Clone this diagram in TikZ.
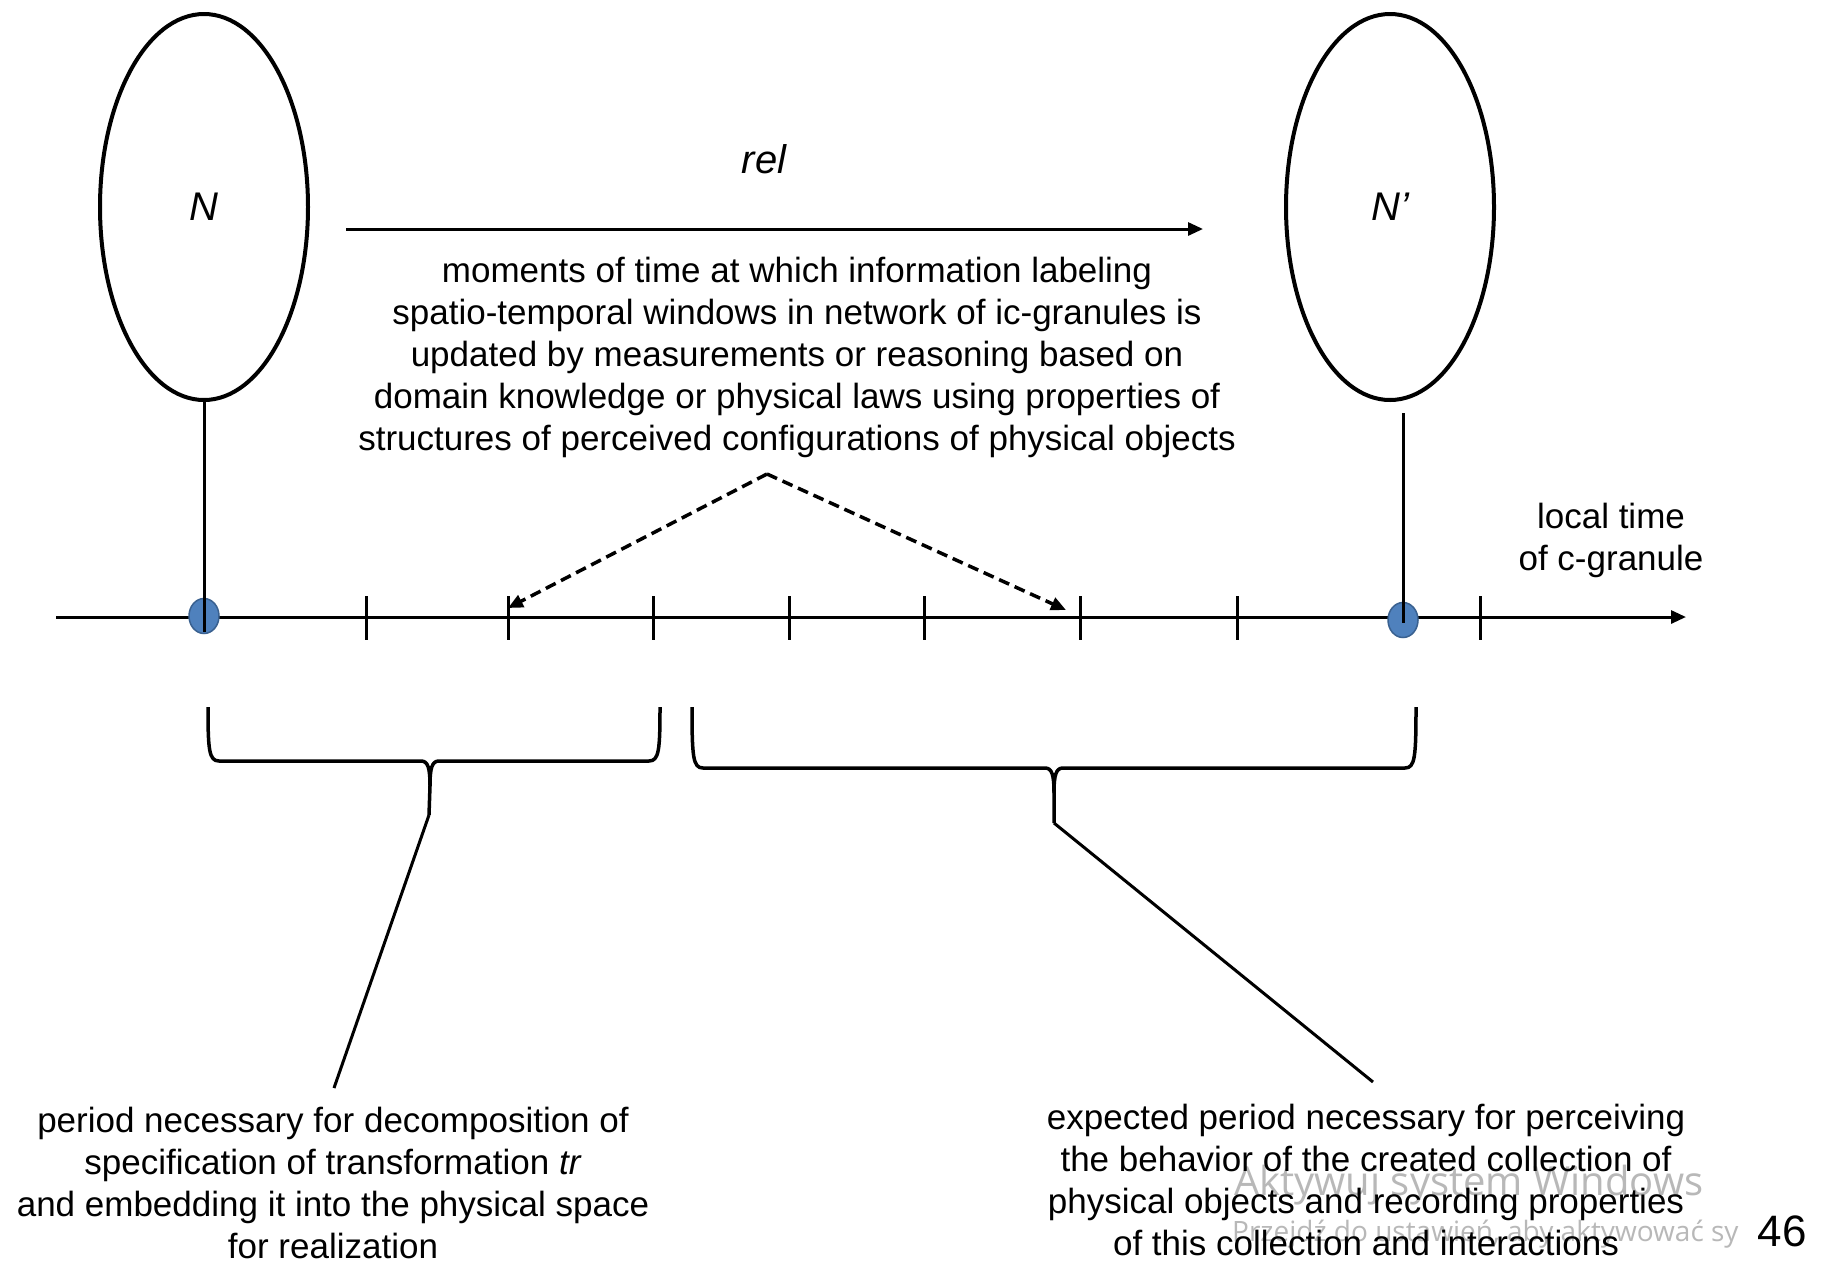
\documentclass[tikz,border=0pt]{standalone}
\usepackage{fontspec}
\setmainfont{Liberation Sans}
\newfontfamily\wmfont{Open Sans}
\usetikzlibrary{arrows.meta,shapes.geometric}
\definecolor{dotblue}{HTML}{4F81BD}
\definecolor{dotedge}{HTML}{3A6190}
\definecolor{wmgray}{HTML}{B8B8B8}

\begin{document}
\begin{tikzpicture}[x=1pt,y=-1pt,
  txt/.style={font=\fontsize{35}{42}\selectfont, align=center, inner sep=0pt},
  granule/.style={ellipse, draw, line width=4pt, minimum width=208pt,
    minimum height=386pt, inner sep=0pt, font=\fontsize{40}{48}\selectfont\itshape},
  stamp/.style={ellipse, draw=dotedge, fill=dotblue, line width=1.5pt,
    minimum width=30pt, minimum height=35pt, inner sep=0pt},
  stem/.style={line width=3pt},
  axisline/.style={line width=3pt, -{Triangle[length=15pt,width=13pt]}},
  relarrow/.style={line width=3pt, -{Triangle[length=15pt,width=13pt]}},
  dasharrow/.style={line width=3.5pt, dash pattern=on 11pt off 6pt,
    -{Triangle[length=15pt,width=13pt]}},
  tickmark/.style={line width=3pt},
  brace/.style={line width=3.5pt, line join=round},
  pointer/.style={line width=3pt},
  watermark/.style={text=wmgray, inner sep=0pt, anchor=west},
]
% canvas
\fill[white] (0,0) rectangle (1823,1262);
\useasboundingbox (0,0) rectangle (1823,1262);

% granules and their time stamps
\node[granule] (nL) at (204,207) {N};
\node[granule] (nR) at (1390,207) {N’};

% local time axis
\coordinate (axL) at (56,617);
\coordinate (axR) at (1686,617);
\draw[axisline] (axL) -- (axR);
\foreach \name/\x in {t1/366, t2/508, t3/653, t4/789, t5/924, t6/1080, t7/1237, t8/1480} {
  \coordinate (\name) at (\x,617);
  \draw[tickmark] (\x,596) -- (\x,640);
}

\node[stamp] (dL) at (204,616) {};
\node[stamp] (dR) at (1403,620) {};
\coordinate (dLb) at (204,632);
\coordinate (dRc) at (1403,623);
\coordinate (nRs) at (1403,413);
\draw[stem] (nL.south) -- (dLb);
\draw[stem] (nRs) -- (dRc);

% relation arrow
\coordinate (relA) at (346,229);
\coordinate (relB) at (1203,229);
\draw[relarrow] (relA) -- (relB);
\node[inner sep=0pt, font=\fontsize{40}{46}\selectfont\itshape] (rel) at (764,159) {rel};

% update moments
\node[txt] (moments) at (797,357) {moments of time at which information labeling\\
spatio-temporal windows in network of ic-granules is\\
updated by measurements or reasoning based on\\
domain knowledge or physical laws using properties of\\
structures of perceived configurations of physical objects};
\coordinate (apex) at (767,474);
\coordinate (hitL) at (508,608);
\coordinate (hitR) at (1066,610);
\draw[dasharrow] (apex) -- (hitL);
\draw[dasharrow] (apex) -- (hitR);

\node[txt] (axlabel) at (1611,540) {local time\\ of c-granule};

% left brace
\coordinate (bLa) at (208,707);
\coordinate (bLb) at (660,707);
\coordinate (bLt) at (429,815);
\draw[brace] (bLa) .. controls (208,750) and (209,761) .. (219,761) -- (421,761)
  .. controls (428,761) and (430,768) .. (430,786) -- (bLt);
\draw[brace] (bLb) .. controls (660,750) and (659,761) .. (649,761) -- (439,761)
  .. controls (432,761) and (430,768) .. (430,786);

% right brace
\coordinate (bRa) at (692,707);
\coordinate (bRb) at (1416,707);
\coordinate (bRt) at (1054,823);
\draw[brace] (bRa) .. controls (692,757) and (693,768) .. (703,768) -- (1045,768)
  .. controls (1052,768) and (1054,775) .. (1054,793) -- (bRt);
\draw[brace] (bRb) .. controls (1416,757) and (1415,768) .. (1405,768) -- (1063,768)
  .. controls (1056,768) and (1054,775) .. (1054,793);

% pointers to the period descriptions
\coordinate (pL) at (334,1088);
\coordinate (pR) at (1373,1082);
\draw[pointer] (bLt) -- (pL);
\draw[pointer] (bRt) -- (pR);

% system overlay
\node[watermark, font=\wmfont\fontsize{40}{44}\selectfont] (wm1) at (1234,1185) {Aktywuj system Windows};
\node[watermark, font=\wmfont\fontsize{28}{32}\selectfont] (wm2) at (1232,1234) {Przejdź do ustawień, aby aktywować sy};

\node[txt] (periodL) at (333,1183) {period necessary for decomposition of\\
specification of transformation \textit{tr}\\
and embedding it into the physical space\\
for realization};

\node[txt] (periodR) at (1366,1180) {expected period necessary for perceiving\\
the behavior of the created collection of\\
physical objects and recording properties\\
of this collection and interactions};

\node[inner sep=0pt, fill=white, font=\fontsize{44}{48}\selectfont] (slide) at (1782,1231) {46};
\end{tikzpicture}
\end{document}
